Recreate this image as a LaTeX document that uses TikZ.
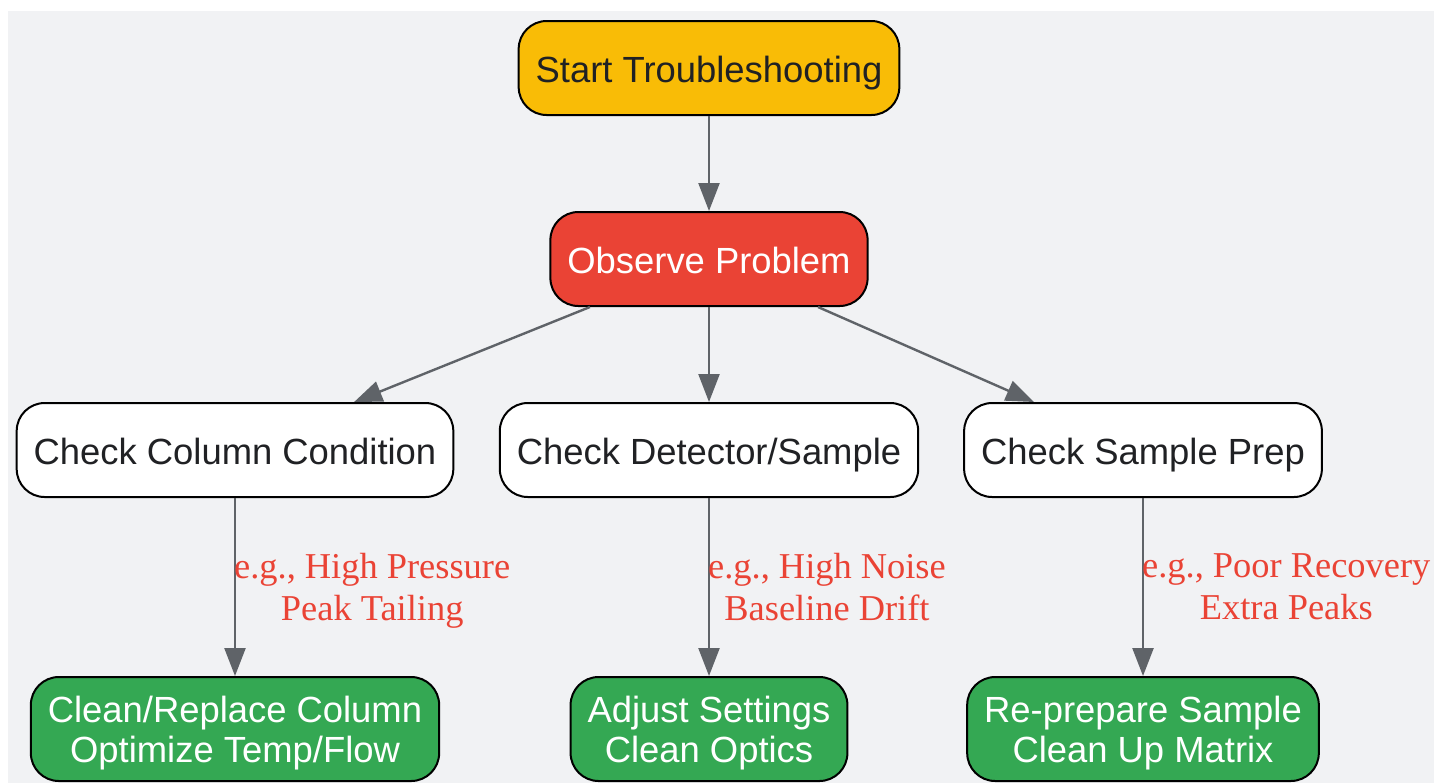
\documentclass[tikz,border=0pt]{standalone}
\usepackage{fontspec}
\setmainfont{Liberation Sans}
\newfontfamily\labelfont{Liberation Serif}
\usetikzlibrary{arrows.meta}

\definecolor{bggray}{HTML}{F1F2F4}
\definecolor{startyellow}{HTML}{F9BC06}
\definecolor{probred}{HTML}{EA4335}
\definecolor{fixgreen}{HTML}{34A853}
\definecolor{textdark}{HTML}{202124}
\definecolor{arrowgray}{HTML}{5F6368}

\begin{document}
\begin{tikzpicture}[x=0.5pt, y=-0.5pt,
    box/.style={draw=black, line width=1pt, rounded corners=14pt, align=center,
        inner xsep=8.5pt, minimum height=47pt, text height=15pt, text depth=1pt,
        font=\fontsize{18.2pt}{20pt}\selectfont},
    startbox/.style={box, fill=startyellow, text=textdark},
    probbox/.style={box, fill=probred, text=white},
    checkbox/.style={box, fill=white, text=textdark},
    fixbox/.style={box, fill=fixgreen, text=white, minimum height=52pt,
        text height=, text depth=0pt},
    flow/.style={draw=arrowgray, line width=1.2pt, -{Triangle[length=14pt, width=10.5pt]}},
    hint/.style={text=probred, align=center, inner sep=0pt, anchor=west, xshift=-1pt,
        text depth=0pt, font=\labelfont\fontsize{18.2pt}{21pt}\selectfont}]

    \useasboundingbox (0,0) rectangle (1434,783);
    \fill[bggray] (8,11) rectangle (1434,783);

    % top
    \node[startbox] (start) at (709,68) {Start Troubleshooting};
    \node[probbox] (obs) at (709,259) {Observe Problem};

    % checks
    \node[checkbox] (col) at (235,450) {Check Column Condition};
    \node[checkbox] (det) at (709,450) {Check Detector/Sample};
    \node[checkbox] (prep) at (1143,450) {Check Sample Prep};

    % fixes
    \node[fixbox] (fixcol) at (235,729) {Clean/Replace Column\\Optimize Temp/Flow};
    \node[fixbox] (fixdet) at (709,729) {Adjust Settings\\Clean Optics};
    \node[fixbox] (fixprep) at (1143,729) {Re-prepare Sample\\Clean Up Matrix};

    \draw[flow] (start) -- (obs);
    \draw[flow] (obs) -- (col);
    \draw[flow] (obs) -- (det);
    \draw[flow] (obs) -- (prep);

    \draw[flow] (col) -- node[hint] (hintcol) {e.g., High Pressure\\Peak Tailing} (fixcol);
    \draw[flow] (det) -- node[hint] (hintdet) {e.g., High Noise\\Baseline Drift} (fixdet);
    \draw[flow] (prep) -- node[hint] (hintprep) {e.g., Poor Recovery\\Extra Peaks} (fixprep);

\end{tikzpicture}
\end{document}
